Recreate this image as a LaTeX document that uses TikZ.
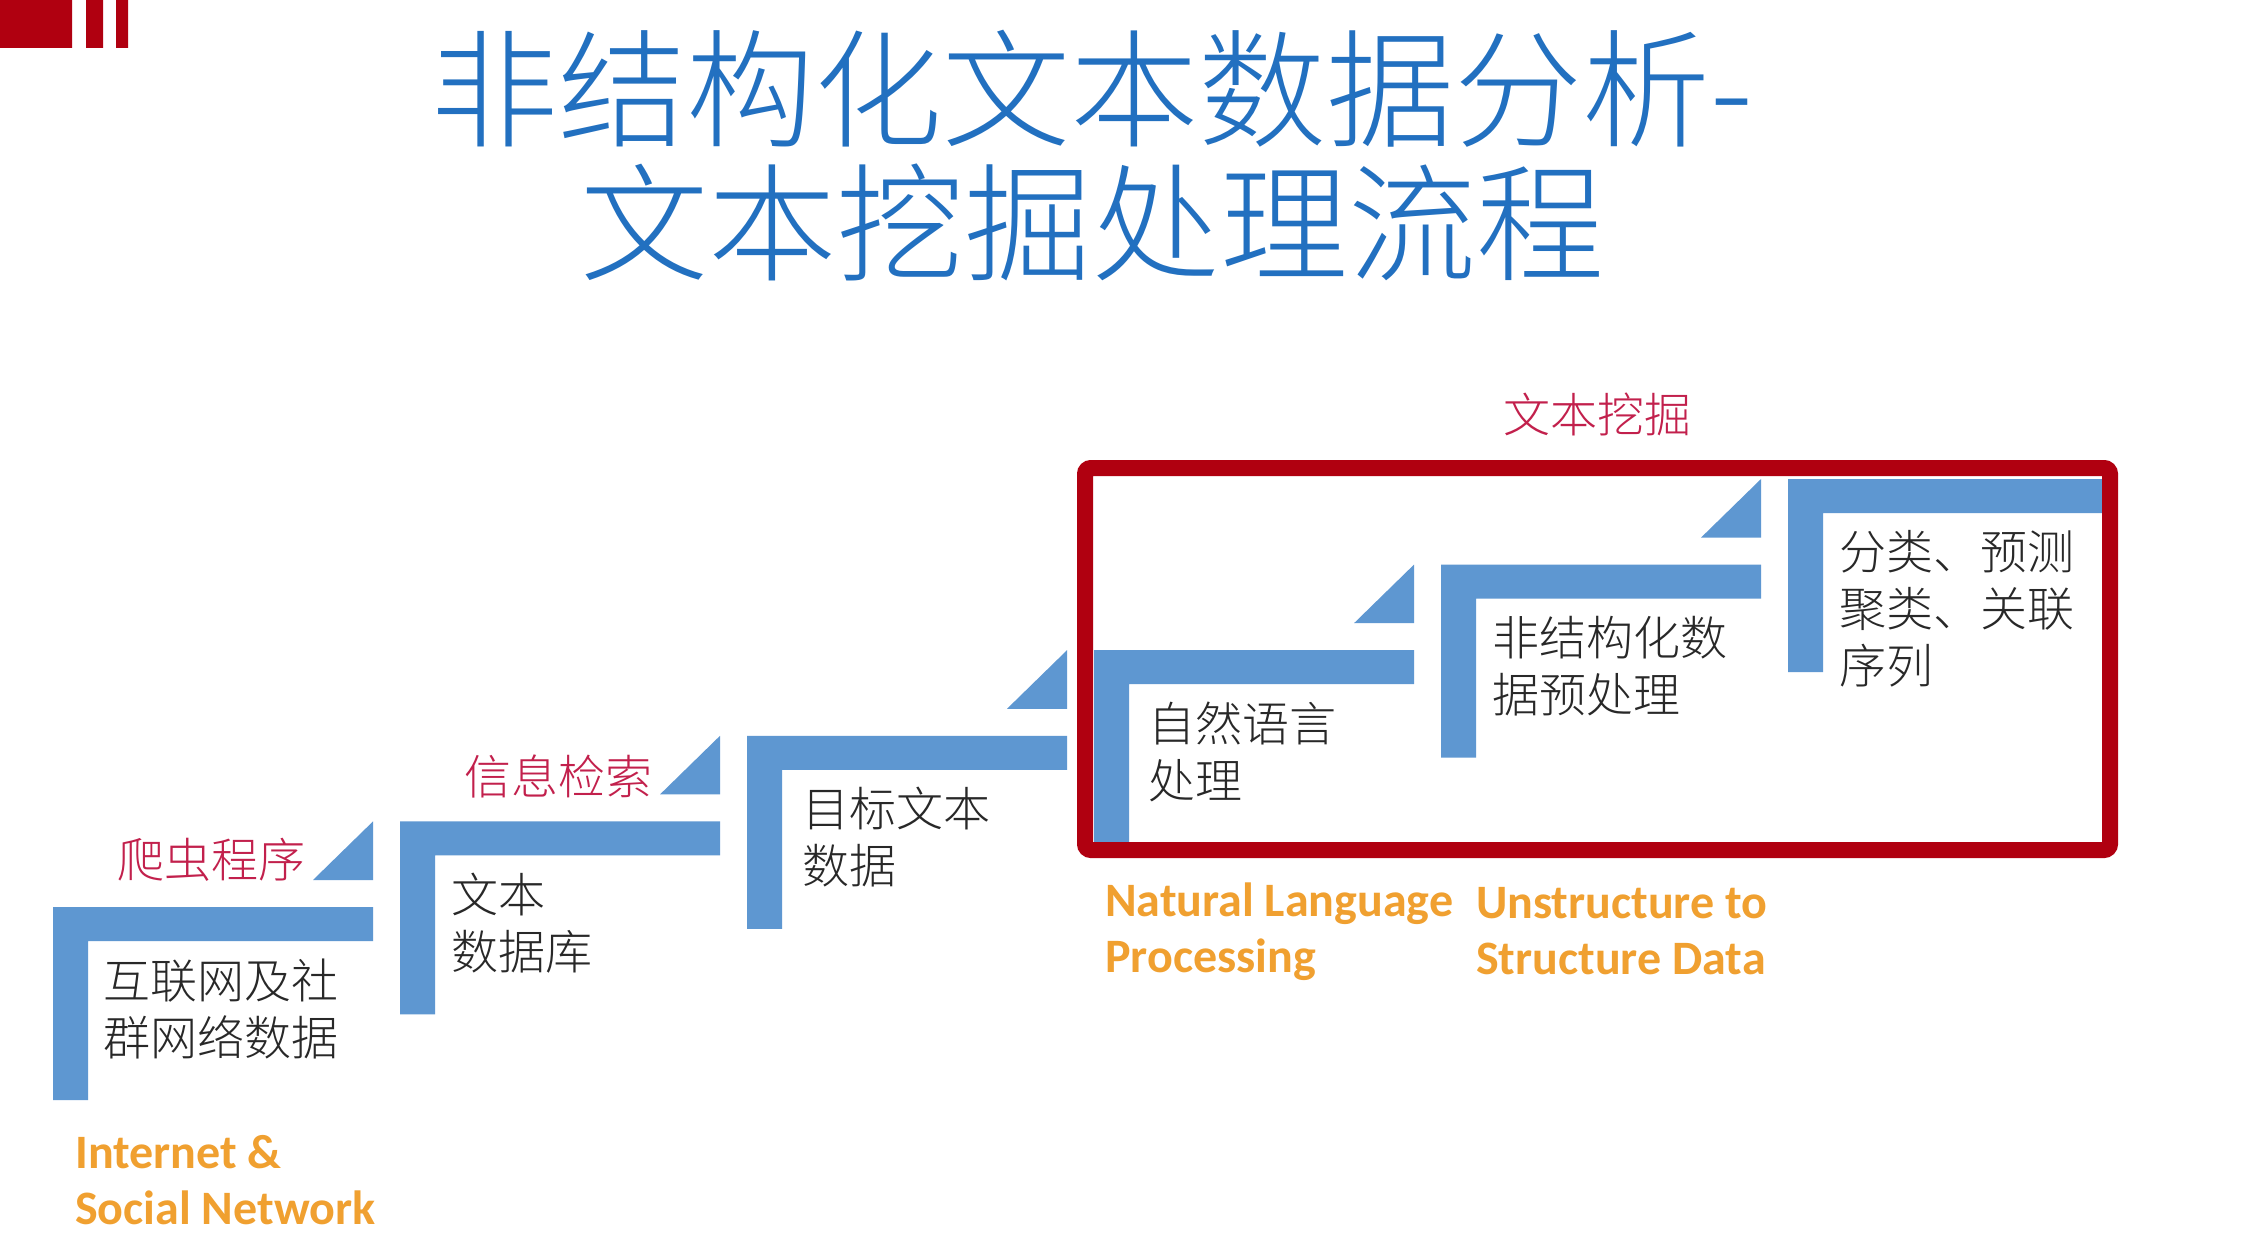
\documentclass[tikz,border=0pt]{standalone}
\usepackage{fontspec}
\usetikzlibrary{calc}
\setmainfont{Carlito}
\newfontfamily\cjk{Noto Sans CJK SC Light}

\definecolor{stepblue}{RGB}{94,151,209}
\definecolor{titleblue}{RGB}{34,112,192}
\definecolor{boxred}{RGB}{176,0,16}
\definecolor{labelred}{RGB}{194,32,76}
\definecolor{engorange}{RGB}{240,160,48}
\definecolor{bodyink}{RGB}{40,40,40}

\begin{document}
\begin{tikzpicture}[x=1pt,y=-1pt,
  steptext/.style={anchor=west,inner sep=0pt,align=left,text=bodyink,
    font=\cjk\fontsize{47}{57}\selectfont},
  toollabel/.style={inner sep=0pt,text=labelred,
    font=\cjk\fontsize{47}{57}\selectfont},
  engtext/.style={anchor=west,inner sep=0pt,align=left,text=engorange,
    font=\bfseries\fontsize{48}{56}\selectfont},
  titletext/.style={inner sep=0pt,align=center,text=titleblue,
    font=\cjk\fontsize{128}{134}\selectfont},
  framebox/.style={draw=boxred,line width=16pt,rounded corners=6pt}
]
\useasboundingbox (0,0) rectangle (2256,1236);
\fill[white] (0,0) rectangle (2256,1236);

% corner mark
\fill[boxred] (0,0) rectangle (72,48) (86,0) rectangle (103,48) (116,0) rectangle (128,48);

% title
\node[titletext] (title) at (1092,156) {非结构化文本数据分析-\\文本挖掘处理流程};

% staircase: six L-shaped steps, arrow wedges between them
\foreach \i in {0,...,5}{
  \pgfmathsetmacro\sx{53+347*\i}
  \pgfmathsetmacro\sy{907-85.6*\i}
  \coordinate (s\i) at (\sx,\sy);
  \fill[stepblue] (\sx,\sy) -- ++(320,0) -- ++(0,34) -- ++(-285,0)
    -- ++(0,159) -- ++(-35,0) -- cycle;
}
\foreach \i in {0,...,4}{
  \fill[stepblue] ($(s\i)+(260,-27)$) -- ($(s\i)+(320,-27)$)
    -- ($(s\i)+(320,-85.6)$) -- cycle;
}

% text mining frame
\draw[framebox] (1085,468) rectangle (2110,850);
\coordinate (frametop) at (1597,468);
\node[toollabel] (mining) at ($(frametop)+(0,-54)$) {文本挖掘};

% step contents
\node[steptext] (t0) at ($(s0)+(50,101.5)$) {互联网及社\\群网络数据};
\node[steptext] (t1) at ($(s1)+(51,101.5)$) {文本\\数据库};
\node[steptext] (t2) at ($(s2)+(55,101.5)$) {目标文本\\数据};
\node[steptext] (t3) at ($(s3)+(54,101.5)$) {自然语言\\处理};
\node[steptext] (t4) at ($(s4)+(51,101.5)$) {非结构化数\\据预处理};
\node[steptext] (t5) at ($(s5)+(51,130)$) {分类、预测\\聚类、关联\\序列};

% tools on the rising edges
\node[toollabel,anchor=east] (crawler) at ($(s0)+(253,-47)$) {爬虫程序};
\node[toollabel,anchor=east] (retrieval) at ($(s1)+(253,-45)$) {信息检索};

% english captions
\node[engtext] (e0) at (75,1180) {Internet \&\\Social Network};
\node[engtext] (e3) at (1105,932) {Natural Language\\Processing};
\node[engtext] (e4) at (1476,931) {Unstructure to\\Structure Data};
\end{tikzpicture}
\end{document}
